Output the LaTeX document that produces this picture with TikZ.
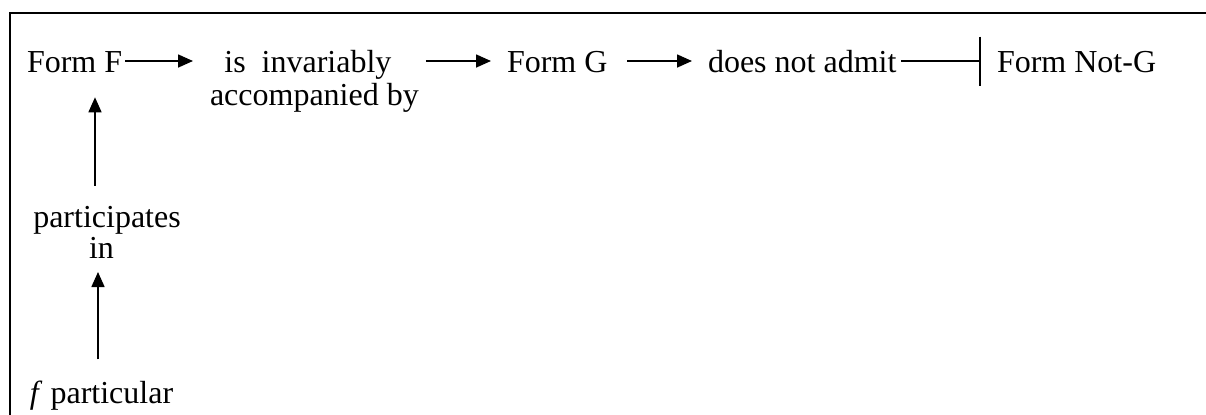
\documentclass[tikz,border=0pt]{standalone}
\usepackage{fontspec}
\setmainfont{Liberation Serif}
\usetikzlibrary{arrows.meta}
\begin{document}
\begin{tikzpicture}[x=0.5pt,y=-0.5pt,
  lbl/.style={inner sep=0pt,outer sep=0pt,font=\fontsize{16}{16.5}\selectfont},
  arr/.style={line width=0.8pt,-{Triangle[length=7.5pt,width=6.5pt]}},
  inh/.style={line width=0.8pt,-{Bar[width=24.5pt,line width=0.8pt]}},
  frame/.style={line width=1pt}]
\useasboundingbox (0,0) rectangle (1206,414);
\draw[frame] (10,420) -- (10,13) -- (1212,13);
\coordinate (row) at (0,61);
\coordinate (colA) at (95,0);
\coordinate (colB) at (98,0);
\node[lbl,anchor=base west] (F) at (27,72) {Form F};
\node[lbl,anchor=base west,align=center] (inv) at (210,105) {is\ \ invariably\hspace*{6.5pt}\\accompanied by};
\node[lbl,anchor=base west] (G) at (507,72) {Form G};
\node[lbl,anchor=base west] (D) at (708,72) {does not admit};
\node[lbl,anchor=base west] (N) at (997,72) {Form Not-G};
\node[lbl,anchor=base,align=center,font=\fontsize{16}{15.5}\selectfont] (P) at (107,258) {participates\\in\hspace*{5.5pt}};
\node[lbl,anchor=base west] (fp) at (30,403) {\textit{f} particular};
\draw[arr,shorten <=1.5pt,shorten >=8.5pt] (F.east |- row) -- (inv.west |- row);
\draw[arr,shorten <=3.5pt,shorten >=8pt] (inv.east |- row) -- (G.west |- row);
\draw[arr,shorten <=10pt,shorten >=8pt] (G.east |- row) -- (D.west |- row);
\draw[inh,shorten <=2.5pt,shorten >=8pt] (D.east |- row) -- (N.west |- row);
\draw[arr,shorten <=10pt,shorten >=12.5pt] (P.north -| colA) -- (F.south -| colA);
\draw[arr,shorten <=10.5pt,shorten >=7pt] (fp.north -| colB) -- (P.south -| colB);
\end{tikzpicture}
\end{document}
